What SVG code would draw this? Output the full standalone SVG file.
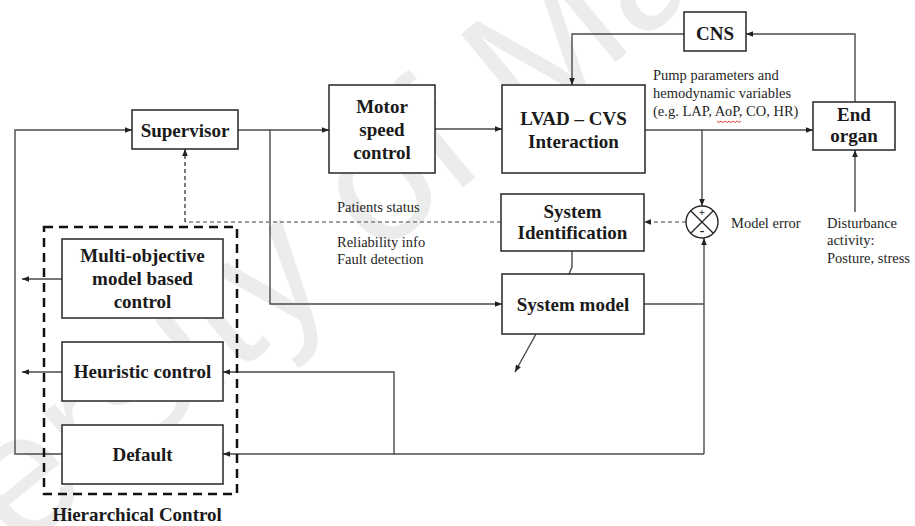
<svg xmlns="http://www.w3.org/2000/svg" width="915" height="526" viewBox="0 0 915 526">
  <style>
    .box { fill: #ffffff; stroke: #262626; stroke-width: 1.5; }
    .lbl { font-family: "Liberation Serif", "Times New Roman", serif; font-weight: bold; font-size: 19px; fill: #1a1a1a; text-anchor: middle; }
    .txt { font-family: "Liberation Serif", "Times New Roman", serif; font-size: 14.5px; fill: #262626; }
    .wire { fill: none; stroke: #4a4a4a; stroke-width: 1.4; }
    .dash-grey { fill: none; stroke: #808080; stroke-width: 1.5; stroke-dasharray: 4 3; }
    .dash-dark { fill: none; stroke: #333333; stroke-width: 1.3; stroke-dasharray: 4 3; }
    .frame { fill: none; stroke: #111111; stroke-width: 2.5; stroke-dasharray: 9 6; }
    .mark { font-family: "Liberation Serif", "Times New Roman", serif; font-weight: bold; fill: #222222; text-anchor: middle; }
  </style>
  <defs>
    <marker id="arrow" viewBox="0 0 10 10" refX="10" refY="5" markerWidth="7" markerHeight="7" markerUnits="userSpaceOnUse" orient="auto">
      <path d="M0,1 L10,5 L0,9 Z" fill="#222222"/>
    </marker>
  </defs>

  <rect width="915" height="526" fill="#ffffff"/>

  <!-- faint background watermark -->
  <text x="0" y="0" transform="translate(18,553) rotate(-39.4)" font-family="'Liberation Sans', Arial, sans-serif" font-size="174" fill="#ececec">ersity of Ma</text>

  <!-- connectors -->
  <g id="connectors">
    <polyline class="wire" points="62,454 15,454 15,130 132,130" marker-end="url(#arrow)"/>
    <line class="wire" x1="238" y1="130" x2="329" y2="130" marker-end="url(#arrow)"/>
    <polyline class="wire" points="270,130 270,304 502,304" marker-end="url(#arrow)"/>
    <line class="wire" x1="435" y1="129" x2="502" y2="129" marker-end="url(#arrow)"/>
    <line class="wire" x1="645" y1="130" x2="813" y2="130" marker-end="url(#arrow)"/>
    <polyline class="wire" points="855,102 855,34 746,34" marker-end="url(#arrow)"/>
    <polyline class="wire" points="684,34 572,34 572,85" marker-end="url(#arrow)"/>
    <line class="wire" x1="702" y1="130" x2="702" y2="206" marker-end="url(#arrow)"/>
    <line class="wire" x1="855" y1="212" x2="855" y2="150" marker-end="url(#arrow)"/>
    <line class="dash-grey" x1="686" y1="222" x2="644" y2="222" marker-end="url(#arrow)"/>
    <line class="dash-grey" x1="501" y1="222" x2="185" y2="222"/>
    <line class="dash-dark" x1="185" y1="222" x2="185" y2="149" marker-end="url(#arrow)"/>
    <polyline class="wire" points="572,251 572,267 569,274"/>
    <line class="wire" x1="644" y1="304" x2="704" y2="304"/>
    <line class="wire" x1="704" y1="454" x2="704" y2="238" marker-end="url(#arrow)"/>
    <line class="wire" x1="704" y1="454" x2="223" y2="454" marker-end="url(#arrow)"/>
    <polyline class="wire" points="394,454 394,372 223,372" marker-end="url(#arrow)"/>
    <line class="wire" x1="62" y1="279" x2="22" y2="279" marker-end="url(#arrow)"/>
    <line class="wire" x1="62" y1="372" x2="22" y2="372" marker-end="url(#arrow)"/>
    <line class="wire" x1="536" y1="334" x2="515" y2="372" marker-end="url(#arrow)"/>
  </g>

  <!-- hierarchical control frame -->
  <g id="hierarchical-control">
    <rect class="frame" x="44" y="227" width="193" height="267"/>
    <text class="lbl" x="137" y="521">Hierarchical Control</text>
  </g>

  <g id="supervisor">
    <rect class="box" x="132" y="110" width="106" height="39"/>
    <text class="lbl" x="185" y="137">Supervisor</text>
  </g>

  <g id="motor-speed-control">
    <rect class="box" x="329" y="85" width="106" height="88"/>
    <text class="lbl" x="382" y="113">Motor</text>
    <text class="lbl" x="382" y="136">speed</text>
    <text class="lbl" x="382" y="159">control</text>
  </g>

  <g id="lvad-cvs">
    <rect class="box" x="502" y="85" width="143" height="88"/>
    <text class="lbl" x="573.5" y="125">LVAD – CVS</text>
    <text class="lbl" x="573.5" y="148">Interaction</text>
  </g>

  <g id="cns">
    <rect class="box" x="684" y="12" width="62" height="39"/>
    <text class="lbl" x="715" y="40">CNS</text>
  </g>

  <g id="end-organ">
    <rect class="box" x="813" y="102" width="82" height="48"/>
    <text class="lbl" x="854" y="121">End</text>
    <text class="lbl" x="854" y="142">organ</text>
  </g>

  <g id="system-identification">
    <rect class="box" x="501" y="194" width="143" height="57"/>
    <text class="lbl" x="572.5" y="218">System</text>
    <text class="lbl" x="572.5" y="239">Identification</text>
  </g>

  <g id="system-model">
    <rect class="box" x="502" y="274" width="142" height="60"/>
    <text class="lbl" x="573" y="311">System model</text>
  </g>

  <g id="summing-junction">
    <circle cx="702" cy="222" r="16" fill="#ffffff" stroke="#262626" stroke-width="1.4"/>
    <line x1="690.7" y1="210.7" x2="713.3" y2="233.3" stroke="#262626" stroke-width="1.3"/>
    <line x1="713.3" y1="210.7" x2="690.7" y2="233.3" stroke="#262626" stroke-width="1.3"/>
    <text class="mark" x="702" y="216" font-size="11">+</text>
    <text class="mark" x="702" y="235" font-size="14">-</text>
  </g>

  <g id="multi-objective-control">
    <rect class="box" x="62" y="239" width="161" height="79"/>
    <text class="lbl" x="142.5" y="262">Multi-objective</text>
    <text class="lbl" x="142.5" y="285">model based</text>
    <text class="lbl" x="142.5" y="308">control</text>
  </g>

  <g id="heuristic-control">
    <rect class="box" x="62" y="342" width="161" height="59"/>
    <text class="lbl" x="142.5" y="378">Heuristic control</text>
  </g>

  <g id="default-control">
    <rect class="box" x="62" y="425" width="161" height="59"/>
    <text class="lbl" x="142.5" y="461">Default</text>
  </g>

  <!-- annotations -->
  <g id="annotations">
    <text class="txt" x="653" y="80">Pump parameters and</text>
    <text class="txt" x="653" y="98">hemodynamic variables</text>
    <text class="txt" x="653" y="116">(e.g. LAP, AoP, CO, HR)</text>
    <path d="M717,121 l2,1.5 l2,-1.5 l2,1.5 l2,-1.5 l2,1.5 l2,-1.5 l2,1.5 l2,-1.5 l2,1.5 l2,-1.5 l2,1.5 l2,-1.5" fill="none" stroke="#e03030" stroke-width="0.9"/>
    <text class="txt" x="337" y="212">Patients status</text>
    <text class="txt" x="337" y="247">Reliability info</text>
    <text class="txt" x="337" y="264">Fault detection</text>
    <text class="txt" x="731" y="228">Model error</text>
    <text class="txt" x="827" y="228">Disturbance</text>
    <text class="txt" x="827" y="245">activity:</text>
    <text class="txt" x="827" y="263">Posture, stress</text>
  </g>
</svg>
